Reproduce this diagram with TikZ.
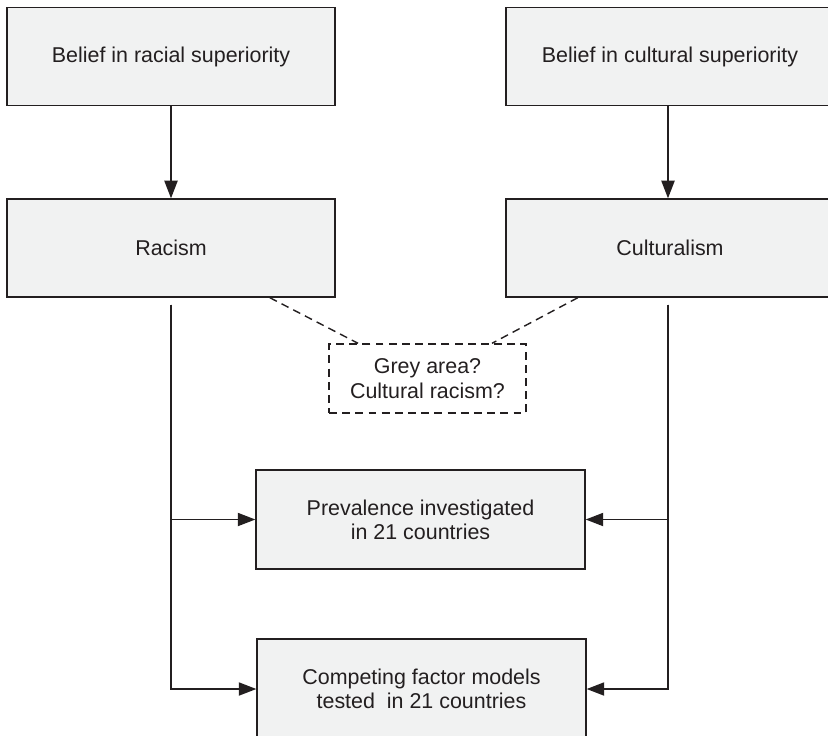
\documentclass[tikz,border=0pt]{standalone}
\usepackage{fontspec}
\setmainfont{Liberation Sans}
\usepackage{xcolor}
\definecolor{boxgrey}{RGB}{241, 242, 242}
\definecolor{inkdark}{RGB}{35, 31, 32}
\usepackage{tikz}
\usetikzlibrary{arrows.meta, positioning, calc}

\begin{document}
\begin{tikzpicture}[x=0.02cm, y=-0.02cm,
    box/.style={draw=inkdark, line width=0.8pt, fill=boxgrey, minimum width=6.56cm, minimum height=1.96cm, font=\fontsize{12.2}{13.8}\selectfont, align=center, text=inkdark},
    greybox/.style={draw=inkdark, dash pattern=on 4.5pt off 3pt, line width=0.8pt, minimum width=3.94cm, minimum height=1.38cm, font=\fontsize{12.2}{13.8}\selectfont, align=center, text=inkdark},
    arr/.style={-{Triangle[length=10pt, width=7.5pt]}, line width=0.85pt, draw=inkdark},
    link/.style={dash pattern=on 4.5pt off 3pt, line width=0.8pt, draw=inkdark}]
                \clip (0,0) rectangle (828,735);

                % Belief nodes
                \node[box] (racebelief) at (171,56.5) {Belief in racial superiority};
                \node[box] (cultbelief) at (670,56.5) {Belief in cultural superiority};

                % Ideology nodes
                \node[box] (racism) at (171,248) {Racism};
                \node[box] (cultism) at (670,248) {Culturalism};

                % Grey area
                \node[greybox] (grey) at (427.5,378.5) {Grey area?\\Cultural racism?};

                % Study nodes
                \node[box, minimum width=6.58cm, minimum height=1.98cm] (prev) at (420.5,519.5) {Prevalence investigated\\in 21 countries};
                \node[box, minimum width=6.58cm, minimum height=2cm] (comp) at (421.5,689) {Competing factor models\\tested~ in 21 countries};

                % Start points of the long lines
                \coordinate (rstart) at ([yshift=-0.14cm]racism.south);
                \coordinate (cstart) at ([yshift=-0.14cm, xshift=-0.04cm]cultism.south);

                % Arrows
                \draw[arr] (racebelief) -- (racism);
                \draw[arr] ([xshift=-0.04cm]cultbelief.south) -- ([xshift=-0.04cm]cultism.north);
                \draw[arr] (rstart) |- (prev.west);
                \draw[arr] (rstart) |- (comp.west);
                \draw[arr] (cstart) |- (prev.east);
                \draw[arr] (cstart) |- (comp.east);

                % Dashed links
                \draw[link] ($(racism.south)!0.6!(racism.south east)$) -- ($(grey.north)!0.7!(grey.north west)$);
                \draw[link] ($(cultism.south)!0.56!(cultism.south west)$) -- ($(grey.north)!0.65!(grey.north east)$);
            \end{tikzpicture}
\end{document}
